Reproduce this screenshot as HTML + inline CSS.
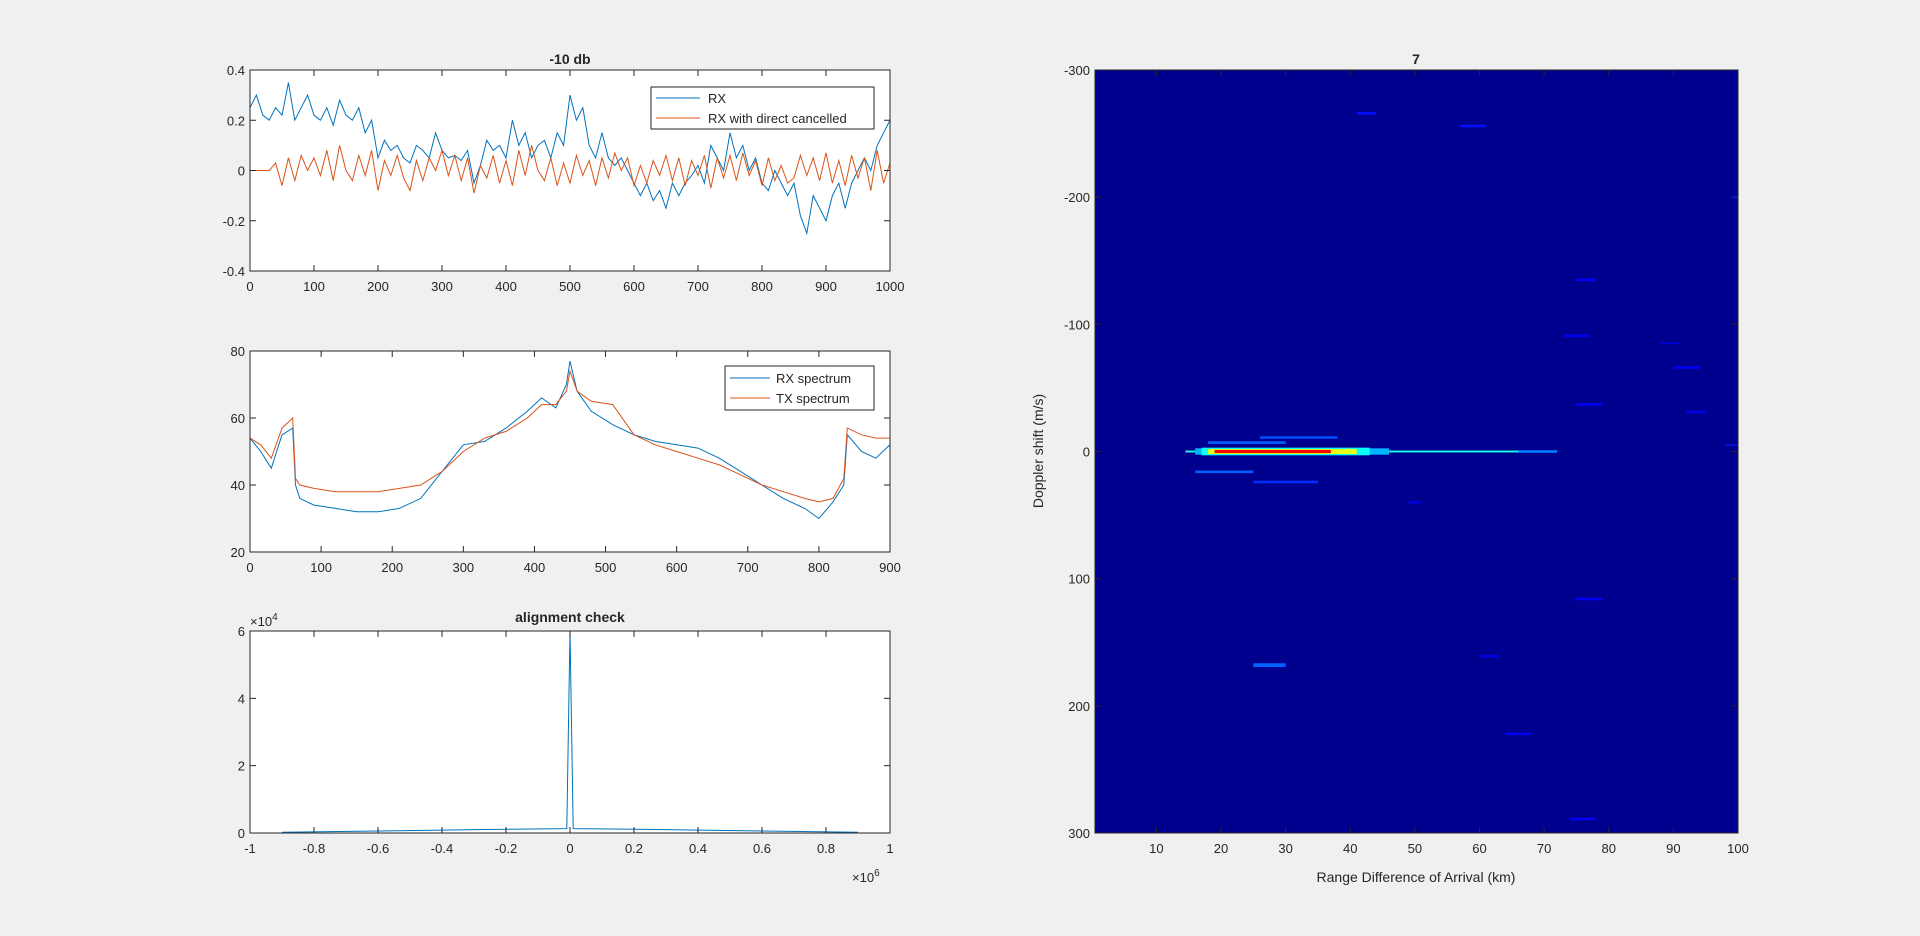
<!DOCTYPE html>
<html><head><meta charset="utf-8"><style>
html,body{margin:0;padding:0;background:#f0f0f0;}
svg{display:block;font-family:"Liberation Sans",Arial,sans-serif;}
</style></head><body>
<svg id="fig" width="1920" height="936" viewBox="0 0 1920 936" xmlns="http://www.w3.org/2000/svg">
<rect width="1920" height="936" fill="#f0f0f0"/>
</svg>
<script>
// ---- data ----
const timeX = [0,10,20,30,40,50,60,70,80,90,100,110,120,130,140,150,160,170,180,190,200,210,220,230,240,250,260,270,280,290,300,310,320,330,340,350,360,370,380,390,400,410,420,430,440,450,460,470,480,490,500,510,520,530,540,550,560,570,580,590,600,610,620,630,640,650,660,670,680,690,700,710,720,730,740,750,760,770,780,790,800,810,820,830,840,850,860,870,880,890,900,910,920,930,940,950,960,970,980,990,1000];
const rxValues = [0.25,0.3,0.22,0.2,0.25,0.22,0.35,0.2,0.25,0.3,0.22,0.2,0.25,0.18,0.28,0.22,0.2,0.25,0.15,0.2,0.05,0.12,0.08,0.1,0.05,0.03,0.1,0.08,0.05,0.15,0.08,0.05,0.06,0.04,0.08,-0.05,0.02,0.12,0.08,0.1,0.05,0.2,0.1,0.15,0.05,0.1,0.12,0.05,0.15,0.1,0.3,0.2,0.25,0.1,0.05,0.15,0.05,0.02,0.05,0.0,-0.05,-0.1,-0.05,-0.12,-0.08,-0.15,-0.05,-0.1,-0.05,-0.02,0.02,-0.05,0.1,0.05,0.0,0.15,0.05,0.1,0.0,0.05,-0.05,-0.08,0.0,-0.05,-0.1,-0.05,-0.18,-0.25,-0.1,-0.15,-0.2,-0.1,-0.05,-0.15,-0.05,0.0,0.05,0.0,0.1,0.15,0.2];
const cancelledValues = [0,0,0,0,0.03,-0.06,0.05,-0.04,0.06,0.0,0.05,-0.02,0.08,-0.04,0.1,0.0,-0.04,0.06,-0.02,0.08,-0.08,0.04,-0.02,0.06,-0.03,-0.08,0.04,-0.04,0.05,0.0,0.08,-0.02,0.06,-0.04,0.05,-0.09,0.02,-0.03,0.06,-0.05,0.04,-0.06,0.08,-0.02,0.1,0.0,-0.04,0.05,-0.06,0.03,-0.05,0.06,-0.02,0.04,-0.06,0.05,-0.03,0.07,0.0,0.05,-0.06,0.02,-0.05,0.04,-0.02,0.06,-0.04,0.05,-0.06,0.04,-0.02,0.06,-0.07,0.05,-0.03,0.06,-0.04,0.07,-0.02,0.04,-0.06,0.05,-0.04,0.02,-0.05,-0.03,0.06,-0.02,0.05,-0.04,0.07,-0.05,0.04,-0.06,0.06,-0.03,0.05,-0.08,0.08,-0.05,0.03];
const freqX = [0,15,30,45,60,64,70,90,120,150,180,210,240,270,300,330,360,390,410,430,445,450,460,480,510,540,570,600,630,660,690,720,750,780,800,820,835,840,860,880,900];
const rxSpectrum = [54,50,45,55,57,40,36,34,33,32,32,33,36,44,52,53,57,62,66,63,70,77,68,62,58,55,53,52,51,48,44,40,36,33,30,35,40,55,50,48,52];
const txSpectrum = [54,52,48,57,60,42,40,39,38,38,38,39,40,44,50,54,56,60,64,64,68,74,68,65,64,55,52,50,48,46,43,40,38,36,35,36,42,57,55,54,54];
const lagX = [-900000,-600000,-300000,-10000,0,10000,300000,600000,900000];
const lagValues = [200,600,1000,1300,60000,1300,1000,600,200];
const cellX0 = [14.5,16,17,18,19,18,26,16,25,25,41,57,99,75,75,73,88,90,92,49,66,75,98,74,60,64];
const cellX1 = [72,46,43,41,37,30,38,25,35,30,44,61,100,78,79,77,91,94,95,51,72,79,100,78,63,68];
const cellY  = [0,0,0,0,0,-7,-11,16,24,168,-266,-256,-200,-135,-37,-91,-85,-66,-31,40,0,116,-5,289,161,222];
const cellH  = [1.5,5,6,4,2.5,2,2,2,2,3,2,2,2,2,2,2,1,2,2,2,2,2,1,2,2,2];
const cellV  = [0.4,0.3,0.38,0.6,0.88,0.22,0.2,0.22,0.17,0.22,0.14,0.14,0.14,0.12,0.12,0.11,0.1,0.12,0.1,0.09,0.25,0.12,0.15,0.12,0.1,0.11];

const NS="http://www.w3.org/2000/svg";
const svg=document.getElementById('fig');
function mk(tag,attrs,parent){const e=document.createElementNS(NS,tag);for(const k in attrs)e.setAttribute(k,attrs[k]);(parent||svg).appendChild(e);return e;}
function txt(s,x,y,opt,parent){const t=mk('text',Object.assign({x:x,y:y,'font-size':13,fill:'#262626'},opt||{}),parent);t.textContent=s;return t;}

function axes(name,L,R,T,B,xmin,xmax,ymin,ymax,xticks,yticks,xlab,ylab,reverseY){
  const g=mk('g',{});
  
  
  const sx=v=>L+(v-xmin)/(xmax-xmin)*(R-L);
  const sy=reverseY?(v=>T+(v-ymin)/(ymax-ymin)*(B-T)):(v=>B-(v-ymin)/(ymax-ymin)*(B-T));
  return {g,sx,sy,L,R,T,B,xticks,yticks,xlab,ylab};
}
function frame(a,bg){
  if(bg) mk('rect',{x:a.L,y:a.T,width:a.R-a.L,height:a.B-a.T,fill:bg},a.g);
}
function decorate(a){
  const g=mk('g',{},a.g);
  
  
  a.xticks.forEach((v,i)=>{const x=a.sx(v);
    mk('line',{x1:x,x2:x,y1:a.B,y2:a.B-6,stroke:'#262626','stroke-width':1},g);
    mk('line',{x1:x,x2:x,y1:a.T,y2:a.T+6,stroke:'#262626','stroke-width':1},g);
    const t=txt(a.xlab[i],x,a.B+20,{'text-anchor':'middle'},g);
    });
  a.yticks.forEach((v,i)=>{const y=a.sy(v);
    mk('line',{x1:a.L,x2:a.L+6,y1:y,y2:y,stroke:'#262626','stroke-width':1},g);
    mk('line',{x1:a.R,x2:a.R-6,y1:y,y2:y,stroke:'#262626','stroke-width':1},g);
    const t=txt(a.ylab[i],a.L-5,y+5,{'text-anchor':'end'},g);
    });
  mk('rect',{x:a.L,y:a.T,width:a.R-a.L,height:a.B-a.T,fill:'none',stroke:'#262626','stroke-width':1},g);
}
function line(a,xs,ys,color,name){
  const p=mk('polyline',{points:xs.map((x,i)=>a.sx(x).toFixed(1)+','+a.sy(ys[i]).toFixed(1)).join(' '),fill:'none',stroke:color,'stroke-width':1},a.g);
  
  
}
const BLUE='#0072bd', ORANGE='#d95319';

// top plot
const a1=axes('time-domain-plot',250,890,70,271,0,1000,-0.4,0.4,[0,100,200,300,400,500,600,700,800,900,1000],[-0.4,-0.2,0,0.2,0.4],['0','100','200','300','400','500','600','700','800','900','1000'],['-0.4','-0.2','0','0.2','0.4']);
frame(a1,'#fff');
line(a1,timeX,rxValues,BLUE,'rx-line');
line(a1,timeX,cancelledValues,ORANGE,'rx-cancelled-line');
decorate(a1);
{const t=txt('-10 db',570,64,{'text-anchor':'middle','font-weight':'bold','font-size':14});}
{const lg=mk('g',{});
 mk('rect',{x:651,y:87,width:223,height:42,fill:'#fff',stroke:'#262626'},lg);
 mk('line',{x1:656,x2:700,y1:98,y2:98,stroke:BLUE},lg);txt('RX',708,103,{},lg);
 mk('line',{x1:656,x2:700,y1:118,y2:118,stroke:ORANGE},lg);txt('RX with direct cancelled',708,123,{},lg);}

// mid plot
const a2=axes('spectrum-plot',250,890,351,552,0,900,20,80,[0,100,200,300,400,500,600,700,800,900],[20,40,60,80],['0','100','200','300','400','500','600','700','800','900'],['20','40','60','80']);
frame(a2,'#fff');
line(a2,freqX,rxSpectrum,BLUE,'rx-spectrum-line');
line(a2,freqX,txSpectrum,ORANGE,'tx-spectrum-line');
decorate(a2);
{const lg=mk('g',{});
 mk('rect',{x:725,y:366,width:149,height:44,fill:'#fff',stroke:'#262626'},lg);
 mk('line',{x1:730,x2:770,y1:378,y2:378,stroke:BLUE},lg);txt('RX spectrum',776,383,{},lg);
 mk('line',{x1:730,x2:770,y1:398,y2:398,stroke:ORANGE},lg);txt('TX spectrum',776,403,{},lg);}

// bottom plot
const a3=axes('alignment-plot',250,890,631,833,-1e6,1e6,0,60000,[-1e6,-8e5,-6e5,-4e5,-2e5,0,2e5,4e5,6e5,8e5,1e6],[0,20000,40000,60000],['-1','-0.8','-0.6','-0.4','-0.2','0','0.2','0.4','0.6','0.8','1'],['0','2','4','6']);
frame(a3,'#fff');
line(a3,lagX,lagValues,BLUE,'alignment-line');
decorate(a3);
{const t=txt('alignment check',570,622,{'text-anchor':'middle','font-weight':'bold','font-size':14});}
{const t=txt('×10',250,626,{});
 const s=mk('tspan',{dy:-6,'font-size':10});s.textContent='4';t.appendChild(s);}
{const t=txt('×10',852,882,{});
 const s=mk('tspan',{dy:-6,'font-size':10});s.textContent='6';t.appendChild(s);}

// heatmap
function jet(v){const c=x=>Math.round(255*Math.max(0,Math.min(1,x)));
 return 'rgb('+c(1.5-Math.abs(4*v-3))+','+c(1.5-Math.abs(4*v-2))+','+c(1.5-Math.abs(4*v-1))+')';}
const a4=axes('range-doppler-map',1095,1738,70,833,0.5,100,-300,300,[10,20,30,40,50,60,70,80,90,100],[-300,-200,-100,0,100,200,300],['10','20','30','40','50','60','70','80','90','100'],['-300','-200','-100','0','100','200','300'],true);
frame(a4,jet(0.015));
cellX0.forEach((x0,i)=>{
  const r=mk('rect',{x:a4.sx(x0),y:a4.sy(cellY[i]-cellH[i]/2),width:a4.sx(cellX1[i])-a4.sx(x0),height:Math.max(1,a4.sy(cellY[i]+cellH[i]/2)-a4.sy(cellY[i]-cellH[i]/2)),fill:jet(cellV[i])},a4.g);
  
  
});
decorate(a4);
{const t=txt('7',1416,64,{'text-anchor':'middle','font-weight':'bold','font-size':14});}
{const t=txt('Range Difference of Arrival (km)',1416,882,{'text-anchor':'middle','font-size':14});}
{const t=txt('Doppler shift (m/s)',0,0,{'text-anchor':'middle','font-size':14,transform:'translate(1043,451) rotate(-90)'});}
</script>
</body></html>
